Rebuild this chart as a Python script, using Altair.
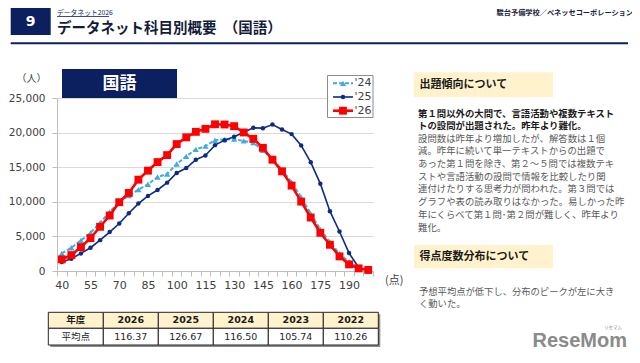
import altair as alt
import pandas as pd

# ---------------- data ----------------
scores = list(range(40, 205, 5))
count_24 = [2540, 3360, 4420, 5520, 6960, 8540, 9980, 10900, 11760, 12530, 13580, 14020,
            15460, 16560, 17570, 18050, 18900, 19000, 19050, 18800, 18550, 17420, 16180,
            14640, 12820, 10660, 8300, 6000, 4180, 2500, 1300, 480, 150]
count_25 = [1300, 1780, 2540, 3360, 4460, 5620, 6860, 8350, 9740, 10850, 11710, 12770,
            14160, 14880, 16080, 16700, 18190, 18910, 19390, 20060, 20690, 20640, 21170,
            20450, 19780, 18140, 15700, 12620, 8640, 5710, 2590, 500]
count_26 = [1680, 2300, 3460, 4750, 6390, 8020, 9940, 11280, 13200, 14500, 15740, 16750,
            18340, 19320, 20110, 20540, 21200, 21170, 20930, 20020, 19100, 17800, 16080,
            14400, 12340, 10030, 7730, 5520, 3790, 2110, 960, 380, 150]
series_names = ["'24", "'25", "'26"]
series_colors = ["#42ABDD", "#0D2B80", "#FF0000"]
series_shapes = ["triangle-up", "circle", "square"]
y_ticks = [0, 5000, 10000, 15000, 20000, 25000]

years = ["2026", "2025", "2024", "2023", "2022"]
averages = ["116.37", "126.67", "116.50", "105.74", "110.26"]

header_small = "データネット2026"
header_right = "駿台予備学校／ベネッセコーポレーション"
page_no = "9"
title_text = "データネット科目別概要　（国語）"
subject = "国語"
y_unit = "（人）"
x_unit = "(点)"
heading1 = "出題傾向について"
bold_lines = ["第１問以外の大問で、言語活動や複数テキスト",
              "トの設問が出題された。昨年より難化。"]
body_lines = ["設問数は昨年より増加したが、解答数は１個",
              "減。昨年に続いて単一テキストからの出題で",
              "あった第１問を除き、第２～５問では複数テキ",
              "ストや言語活動の設問で情報を比較したり関",
              "連付けたりする思考力が問われた。第３問では",
              "グラフや表の読み取りはなかった。易しかった昨",
              "年にくらべて第１問･第２問が難しく、昨年より",
              "難化。"]
heading2 = "得点度数分布について"
body2_lines = ["予想平均点が低下し、分布のピークが左に大き",
               "く動いた。"]
table_head = "年度"
table_row = "平均点"

rows = []
for name, vals in zip(series_names, [count_24, count_25, count_26]):
    for s, v in zip(scores, vals):
        rows.append({"score": s, "series": name, "count": v})
df = pd.DataFrame(rows)

# ---------------- layout ----------------
PL, PT, W, H = 57, 98, 316, 173
JP = "Noto Sans CJK JP"
NUM = "DejaVu Sans"
NAVY = "#0C1F5E"
one = pd.DataFrame({"a": [0]})


def X(v):
    return alt.value(v - PL)


def Y(v):
    return alt.value(v - PT)


def box(x1, y1, x2, y2, fill, stroke=None, sw=1):
    kw = dict(fill=fill)
    if stroke:
        kw.update(stroke=stroke, strokeWidth=sw)
    return alt.Chart(one).mark_rect(**kw).encode(x=X(x1), x2=X(x2), y=Y(y1), y2=Y(y2))


def label(txt, x, y, size, font=JP, weight="normal", color="#1a1a1a", align="left"):
    return alt.Chart(one).mark_text(text=txt, align=align, baseline="middle", font=font,
                                    fontSize=size, fontWeight=weight, color=color).encode(x=X(x), y=Y(y))


def hrule(x1, x2, y, color, sw, dash=None):
    kw = dict(color=color, strokeWidth=sw)
    if dash:
        kw["strokeDash"] = dash
    return alt.Chart(one).mark_rule(**kw).encode(x=X(x1), x2=X(x2), y=Y(y))


x_enc = alt.X("score:O",
              scale=alt.Scale(type="band", paddingInner=0, paddingOuter=0, domain=scores),
              axis=alt.Axis(title=None, labelAngle=0, tickBand="extent", tickSize=5,
                            labelExpr="(datum.value - 40) % 15 == 0 ? datum.label : ''",
                            labelFont=NUM, labelFontSize=11, labelColor="#404040",
                            labelPadding=3, domainColor="#bfbfbf", tickColor="#bfbfbf",
                            grid=False))
y_enc = alt.Y("count:Q",
              scale=alt.Scale(domain=[0, 25000], nice=False),
              axis=alt.Axis(title=None, values=y_ticks,
                            labelExpr="datum.value == 0 ? '0' : floor(datum.value / 1000) + ',000'",
                            labelFont=NUM, labelFontSize=10.5, labelColor="#404040",
                            labelPadding=7, tickSize=5, tickColor="#bfbfbf",
                            domainColor="#bfbfbf", gridColor="#d9d9d9", grid=True))

layers = []
line_styles = [dict(strokeWidth=2, strokeDash=[4, 2]), dict(strokeWidth=1.6), dict(strokeWidth=2.6)]
point_sizes = [38, 20, 62]
for name, col, shp, ls, ps in zip(series_names, series_colors, series_shapes, line_styles, point_sizes):
    base = alt.Chart(df).transform_filter(alt.datum.series == name)
    layers.append(base.mark_line(color=col, **ls).encode(x=x_enc, y=y_enc))
    layers.append(base.mark_point(shape=shp, filled=True, size=ps, color=col, opacity=1)
                  .encode(x=x_enc, y=y_enc))

# legend
layers.append(box(327.5, 75.5, 373, 117.5, "#ffffff", "#8c8c8c", 1))
for i, (name, col, shp, ls, ps) in enumerate(zip(series_names, series_colors, series_shapes,
                                                   line_styles, point_sizes)):
    ly = 83.3 + i * 13.7
    layers.append(hrule(333, 353, ly, col, ls["strokeWidth"], ls.get("strokeDash")))
    layers.append(alt.Chart(one).mark_point(shape=shp, filled=True, size=ps, color=col, opacity=1)
                  .encode(x=X(343), y=Y(ly)))
    layers.append(label(name, 354.5, ly, 11, font=NUM, color="#404040"))

# chart decorations
layers.append(box(62, 69, 177, 98, NAVY))
layers.append(label(subject, 119.5, 83.5, 17, weight="bold", color="#ffffff", align="center"))
layers.append(label(y_unit, 31.5, 79, 10, color="#404040", align="center"))
layers.append(label(x_unit, 385, 281, 11, color="#404040"))

# header
layers.append(label(header_small, 57, 12.7, 6.8, color=NAVY))
layers.append(hrule(57, 109, 16.5, NAVY, 0.8))
layers.append(label(header_right, 633, 12.7, 7.2, weight="bold", color="#1a2340", align="right"))
layers.append(box(10.7, 8, 50.7, 35, NAVY))
layers.append(label(page_no, 30.7, 22, 14, font=NUM, weight="bold", color="#ffffff", align="center"))
layers.append(label(title_text, 57, 28.5, 14.5, weight="bold", color="#141C3C"))
layers.append(hrule(10.7, 628, 43.3, NAVY, 2))

# right panel
layers.append(box(414, 72.3, 553, 97.3, "#FFF2CC"))
layers.append(label(heading1, 419.5, 85, 11, weight="bold"))
for i, t in enumerate(bold_lines):
    layers.append(label(t, 418, 113.5 + i * 12.6, 9.4, weight="bold"))
for i, t in enumerate(body_lines):
    layers.append(label(t, 418, 138.6 + i * 12.7, 9.4, color="#595959"))
layers.append(box(414, 245, 553, 268.3, "#FFF2CC"))
layers.append(label(heading2, 419.5, 256.7, 11, weight="bold"))
for i, t in enumerate(body2_lines):
    layers.append(label(t, 419, 291.7 + i * 12.6, 9.3, color="#595959"))
layers.append(label("リセマム", 622, 327.5, 4.5, color="#8a8a8a", align="right"))
layers.append(label("ReseMom", 627, 340.5, 20, font="Liberation Sans", weight="bold",
                    color="#8a8a8a", align="right"))

# table
TX0, CW, R0, R1, R2 = 48.3, 55, 312.3, 328.3, 345
layers.append(box(TX0 + 2, R0 + 2, TX0 + 6 * CW + 2, R2 + 2, "#8c8c8c"))
head_cells = [table_head] + years
row_cells = [table_row] + averages
for j in range(6):
    x1 = TX0 + j * CW
    layers.append(box(x1, R0, x1 + CW, R1, "#FFF2CC", "#262626", 1))
    layers.append(box(x1, R1, x1 + CW, R2, "#ffffff", "#262626", 1))
    f = JP if j == 0 else NUM
    layers.append(label(head_cells[j], x1 + CW / 2, (R0 + R1) / 2, 9.5, font=f, weight="bold",
                        align="center"))
    layers.append(label(row_cells[j], x1 + CW / 2, (R1 + R2) / 2, 9.5, font=f, align="center",
                        color="#262626"))

chart = alt.layer(*layers).properties(
    width=W, height=H,
    autosize=alt.AutoSizeParams(type="none"),
    padding={"left": PL - 8, "top": PT - 8, "right": 624 - (PL - 8) - W, "bottom": 347 - (PT - 8) - H},
    background="#ffffff",
).configure_view(stroke=None)

chart.save("out.html", embed_options={"renderer": "svg", "actions": False})
